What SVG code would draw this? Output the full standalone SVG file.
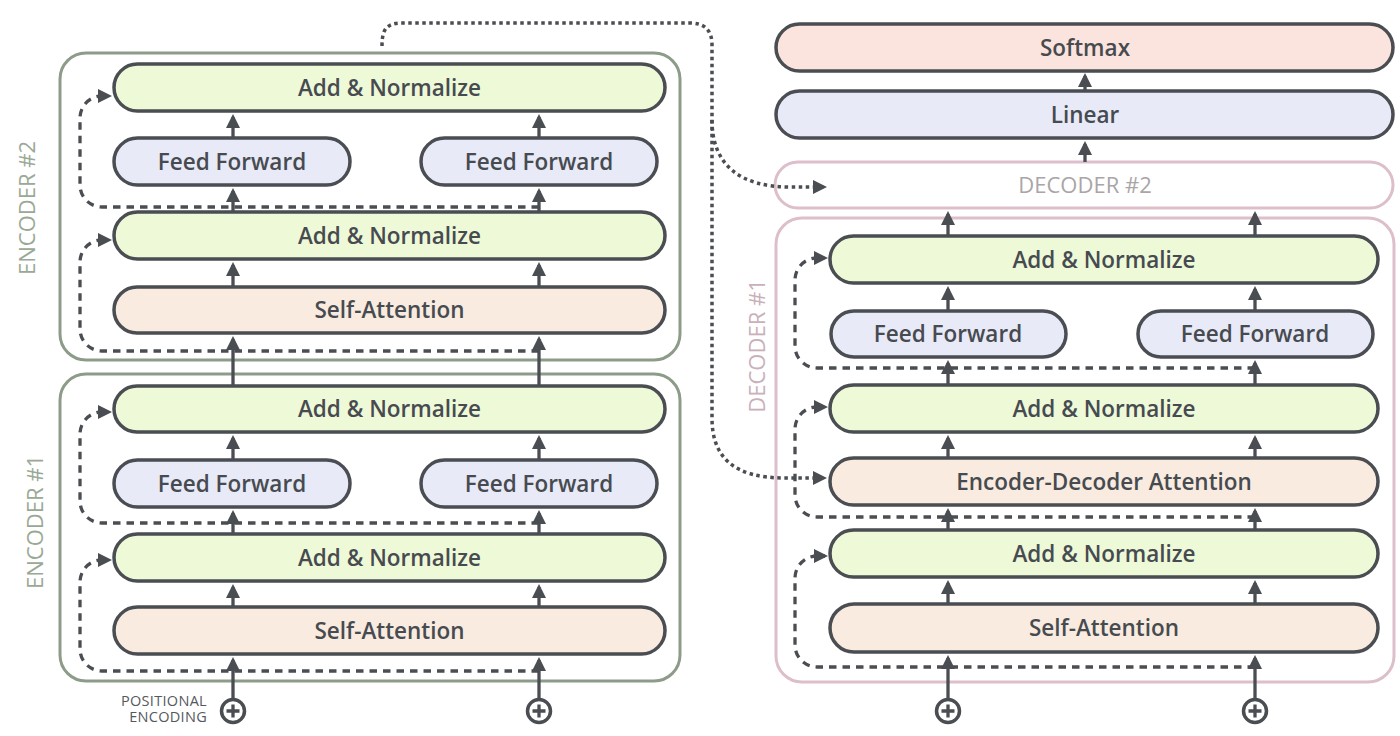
<svg xmlns="http://www.w3.org/2000/svg" width="1400" height="736" viewBox="0 0 1400 736">
<style>
.box{stroke:#4a4d52;stroke-width:3.5}
.an{fill:#eef9d8}
.ff{fill:#e8eaf7}
.sa{fill:#f9ebe0}
.sm{fill:#fbe4dd}
.encout{fill:#fff;stroke:#8d9b89;stroke-width:3}
.decout{fill:#fff;stroke:#dcbfcb;stroke-width:3}
.lbl{font-family:"Open Sans","Noto Sans",sans-serif;font-size:22.5px;font-weight:600;fill:#474b50;text-anchor:middle}
.side{font-family:"Open Sans","Noto Sans",sans-serif;font-size:22px;font-weight:500;text-anchor:middle}
.small{font-family:"Open Sans","Noto Sans",sans-serif;font-size:14.5px;font-weight:500;fill:#55595e;text-anchor:end;letter-spacing:0.3px}
.conn{stroke:#4a4d52;stroke-width:3.3;fill:none}
.dash{stroke-dasharray:7.5 6}
.dot{stroke-dasharray:3.5 3.5;stroke-width:3.5}
.plus{fill:#fff;stroke:#4a4d52;stroke-width:3.5}
</style>
<defs>
<marker id="ah" markerUnits="userSpaceOnUse" markerWidth="14" markerHeight="14" refX="11" refY="7" orient="auto">
<path d="M0,0 L14,7 L0,14 z" fill="#4a4d52"/>
</marker>
</defs>
<rect width="1400" height="736" fill="#fff"/>

<g id="encoder2">
<rect class="encout" x="60" y="53" width="620" height="307" rx="26"/>
<text class="side" x="35" y="208" fill="#9aa996" transform="rotate(-90 35 208)">ENCODER #2</text>
<g id="e2-addnorm-top"><rect class="box an" x="114" y="64" width="551" height="47" rx="23.5"/><text class="lbl" x="389.5" y="96">Add &amp; Normalize</text></g>
<g id="e2-ff-left"><rect class="box ff" x="114" y="138" width="236" height="47" rx="23.5"/><text class="lbl" x="232" y="170">Feed Forward</text></g>
<g id="e2-ff-right"><rect class="box ff" x="421" y="138" width="236" height="47" rx="23.5"/><text class="lbl" x="539" y="170">Feed Forward</text></g>
<g id="e2-addnorm-bottom"><rect class="box an" x="114" y="212" width="551" height="47" rx="23.5"/><text class="lbl" x="389.5" y="244">Add &amp; Normalize</text></g>
<g id="e2-selfatt"><rect class="box sa" x="114" y="287" width="551" height="46" rx="23"/><text class="lbl" x="389.5" y="318">Self-Attention</text></g>
</g>

<g id="encoder1">
<rect class="encout" x="60" y="374" width="620" height="307" rx="26"/>
<text class="side" x="43" y="522" fill="#9aa996" transform="rotate(-90 43 522)">ENCODER #1</text>
<g id="e1-addnorm-top"><rect class="box an" x="114" y="386" width="551" height="46" rx="23"/><text class="lbl" x="389.5" y="417">Add &amp; Normalize</text></g>
<g id="e1-ff-left"><rect class="box ff" x="114" y="460" width="236" height="47" rx="23.5"/><text class="lbl" x="232" y="492">Feed Forward</text></g>
<g id="e1-ff-right"><rect class="box ff" x="421" y="460" width="236" height="47" rx="23.5"/><text class="lbl" x="539" y="492">Feed Forward</text></g>
<g id="e1-addnorm-bottom"><rect class="box an" x="114" y="534" width="551" height="47" rx="23.5"/><text class="lbl" x="389.5" y="566">Add &amp; Normalize</text></g>
<g id="e1-selfatt"><rect class="box sa" x="114" y="607" width="551" height="47" rx="23.5"/><text class="lbl" x="389.5" y="639">Self-Attention</text></g>
</g>

<g id="softmax"><rect class="box sm" x="776" y="24" width="617" height="47" rx="23.5"/><text class="lbl" x="1085" y="56">Softmax</text></g>
<g id="linear"><rect class="box ff" x="776" y="91" width="617" height="47" rx="23.5"/><text class="lbl" x="1085" y="123">Linear</text></g>
<g id="decoder2"><rect class="decout" x="775" y="162" width="618" height="46" rx="23"/><text class="side" x="1085" y="193" fill="#aaa5a7">DECODER #2</text></g>

<g id="decoder1">
<rect class="decout" x="776" y="218" width="618" height="464" rx="26"/>
<text class="side" x="765" y="346" fill="#c9b0ba" transform="rotate(-90 765 346)">DECODER #1</text>
<g id="d1-addnorm-top"><rect class="box an" x="830" y="236" width="548" height="47" rx="23.5"/><text class="lbl" x="1104" y="268">Add &amp; Normalize</text></g>
<g id="d1-ff-left"><rect class="box ff" x="831" y="311" width="235" height="46" rx="23"/><text class="lbl" x="948" y="342">Feed Forward</text></g>
<g id="d1-ff-right"><rect class="box ff" x="1138" y="311" width="235" height="46" rx="23"/><text class="lbl" x="1255" y="342">Feed Forward</text></g>
<g id="d1-addnorm-mid"><rect class="box an" x="830" y="385" width="548" height="47" rx="23.5"/><text class="lbl" x="1104" y="417">Add &amp; Normalize</text></g>
<g id="d1-encdec"><rect class="box sa" x="830" y="458" width="548" height="47" rx="23.5"/><text class="lbl" x="1104" y="490">Encoder-Decoder Attention</text></g>
<g id="d1-addnorm-bottom"><rect class="box an" x="830" y="530" width="548" height="47" rx="23.5"/><text class="lbl" x="1104" y="562">Add &amp; Normalize</text></g>
<g id="d1-selfatt"><rect class="box sa" x="830" y="604" width="548" height="48" rx="24"/><text class="lbl" x="1104" y="636">Self-Attention</text></g>
</g>

<g id="inputs">
<g id="pe-label"><text class="small" x="207" y="705.5">POSITIONAL</text><text class="small" x="207" y="722">ENCODING</text></g>
<g id="plus-e1"><circle class="plus" cx="233" cy="711" r="11.5"/><path class="conn" d="M226.5,711 H239.5 M233,704.5 V717.5"/></g>
<g id="plus-e2"><circle class="plus" cx="539" cy="711" r="11.5"/><path class="conn" d="M532.5,711 H545.5 M539,704.5 V717.5"/></g>
<g id="plus-d1"><circle class="plus" cx="948" cy="711" r="11.5"/><path class="conn" d="M941.5,711 H954.5 M948,704.5 V717.5"/></g>
<g id="plus-d2"><circle class="plus" cx="1255" cy="711" r="11.5"/><path class="conn" d="M1248.5,711 H1261.5 M1255,704.5 V717.5"/></g>
</g>

<g id="connectors">
<path class="conn dash" marker-end="url(#ah)" d="M539,207 H102 A22,22 0 0 1 80,185 V118 A22,22 0 0 1 102,96 H109"/>
<path class="conn dash" marker-end="url(#ah)" d="M539,351 H102 A22,22 0 0 1 80,329 V262 A22,22 0 0 1 102,240 H109"/>
<path class="conn dash" marker-end="url(#ah)" d="M539,523 H102 A22,22 0 0 1 80,501 V434 A22,22 0 0 1 102,412 H109"/>
<path class="conn dash" marker-end="url(#ah)" d="M539,671 H102 A22,22 0 0 1 80,649 V582 A22,22 0 0 1 102,560 H109"/>
<path class="conn dash" marker-end="url(#ah)" d="M1255,368 H817 A22,22 0 0 1 795,346 V280 A22,22 0 0 1 817,258 H825"/>
<path class="conn dash" marker-end="url(#ah)" d="M1255,517 H817 A22,22 0 0 1 795,495 V429 A22,22 0 0 1 817,407 H825"/>
<path class="conn dash" marker-end="url(#ah)" d="M1255,667 H817 A22,22 0 0 1 795,645 V578 A22,22 0 0 1 817,556 H825"/>
<path class="conn dot" marker-end="url(#ah)" d="M382,46 C382,30 386,23 402,23 H690 Q712,23 712,45 V418 C712,456 732,478 785,478 H824"/>
<path class="conn dot" marker-end="url(#ah)" d="M712,120 C712,165 740,187 790,187 H824"/>
<line class="conn" marker-end="url(#ah)" x1="233" y1="138" x2="233" y2="117"/>
<line class="conn" marker-end="url(#ah)" x1="539" y1="138" x2="539" y2="117"/>
<line class="conn" marker-end="url(#ah)" x1="233" y1="212" x2="233" y2="191"/>
<line class="conn" marker-end="url(#ah)" x1="539" y1="212" x2="539" y2="191"/>
<line class="conn" marker-end="url(#ah)" x1="233" y1="287" x2="233" y2="265"/>
<line class="conn" marker-end="url(#ah)" x1="539" y1="287" x2="539" y2="265"/>
<line class="conn" marker-end="url(#ah)" x1="233" y1="386" x2="233" y2="339"/>
<line class="conn" marker-end="url(#ah)" x1="539" y1="386" x2="539" y2="339"/>
<line class="conn" marker-end="url(#ah)" x1="233" y1="460" x2="233" y2="438"/>
<line class="conn" marker-end="url(#ah)" x1="539" y1="460" x2="539" y2="438"/>
<line class="conn" marker-end="url(#ah)" x1="233" y1="534" x2="233" y2="513"/>
<line class="conn" marker-end="url(#ah)" x1="539" y1="534" x2="539" y2="513"/>
<line class="conn" marker-end="url(#ah)" x1="233" y1="607" x2="233" y2="587"/>
<line class="conn" marker-end="url(#ah)" x1="539" y1="607" x2="539" y2="587"/>
<line class="conn" marker-end="url(#ah)" x1="233" y1="699.5" x2="233" y2="660"/>
<line class="conn" marker-end="url(#ah)" x1="539" y1="699.5" x2="539" y2="660"/>
<line class="conn" marker-end="url(#ah)" x1="948" y1="236" x2="948" y2="214"/>
<line class="conn" marker-end="url(#ah)" x1="1255" y1="236" x2="1255" y2="214"/>
<line class="conn" marker-end="url(#ah)" x1="948" y1="311" x2="948" y2="289"/>
<line class="conn" marker-end="url(#ah)" x1="1255" y1="311" x2="1255" y2="289"/>
<line class="conn" marker-end="url(#ah)" x1="948" y1="385" x2="948" y2="363"/>
<line class="conn" marker-end="url(#ah)" x1="1255" y1="385" x2="1255" y2="363"/>
<line class="conn" marker-end="url(#ah)" x1="948" y1="458" x2="948" y2="438"/>
<line class="conn" marker-end="url(#ah)" x1="1255" y1="458" x2="1255" y2="438"/>
<line class="conn" marker-end="url(#ah)" x1="948" y1="530" x2="948" y2="511"/>
<line class="conn" marker-end="url(#ah)" x1="1255" y1="530" x2="1255" y2="511"/>
<line class="conn" marker-end="url(#ah)" x1="948" y1="604" x2="948" y2="583"/>
<line class="conn" marker-end="url(#ah)" x1="1255" y1="604" x2="1255" y2="583"/>
<line class="conn" marker-end="url(#ah)" x1="948" y1="699.5" x2="948" y2="658"/>
<line class="conn" marker-end="url(#ah)" x1="1255" y1="699.5" x2="1255" y2="658"/>
<line class="conn" marker-end="url(#ah)" x1="1085" y1="162" x2="1085" y2="144"/>
<line class="conn" marker-end="url(#ah)" x1="1085" y1="91" x2="1085" y2="76"/>
</g>
</svg>
